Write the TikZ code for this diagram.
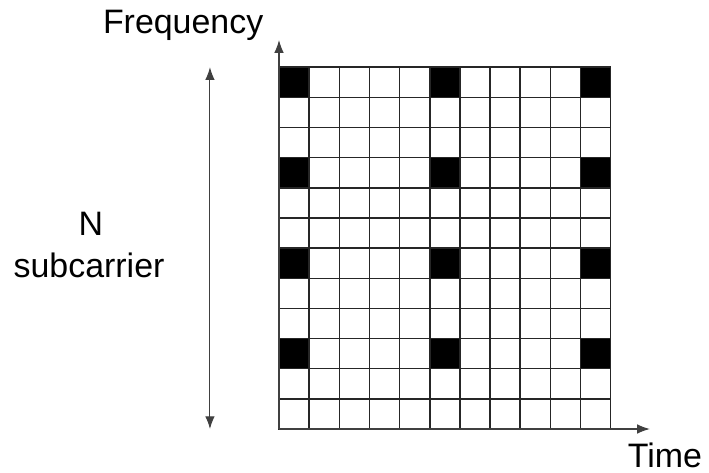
\documentclass[tikz,border=0pt]{standalone}
\usepackage{fontspec}
\setmainfont{Liberation Sans}
\usetikzlibrary{arrows.meta}
\begin{document}
\begin{tikzpicture}[
    cell_style/.style={draw=black!85, line width=1.4pt, minimum size=1cm, inner sep=0pt, outer sep=0pt, fill=white},
    axis_style/.style={draw=black!75, line width=1pt, -{Latex[length=12pt,width=9pt]}},
    label_style/.style={font=\fontsize{32}{40}\selectfont, inner sep=0pt, anchor=base}
]
\useasboundingbox (-9.254,-1.459) rectangle (14.262,14.229);
% time-frequency grid: 11 symbols x 12 subcarriers
\foreach \i in {0,...,10} {
    \foreach \j in {0,...,11} {
        \node[cell_style] (c\i-\j) at (\i+0.5, \j+0.5) {};
    }
}
% pilot cells
\foreach \i in {0,5,10} {
    \foreach \j in {2,5,8,11} {
        \node[cell_style, fill=black] (p\i-\j) at (\i+0.5, \j+0.5) {};
    }
}
% axes
\coordinate (origin) at (0,0);
\coordinate (ftip) at (0,12.9);
\coordinate (ttip) at (12.3,0);
\draw[axis_style] (origin) -- (ftip);
\draw[axis_style] (origin) -- (ttip);
\node[label_style] (freq) at (-3.18,13.13) {Frequency};
\node[label_style] (time) at (12.8,-1.28) {Time};
% subcarrier span
\coordinate (ntop) at (-2.29,12);
\coordinate (nbot) at (-2.29,0);
\draw[axis_style, {Latex[length=12pt,width=9pt]}-{Latex[length=12pt,width=9pt]}] (nbot) -- (ntop);
\node[label_style] (nlab) at (-6.24,6.43) {N};
\node[label_style] (sublab) at (-6.30,5.04) {subcarrier};
\end{tikzpicture}
\end{document}
